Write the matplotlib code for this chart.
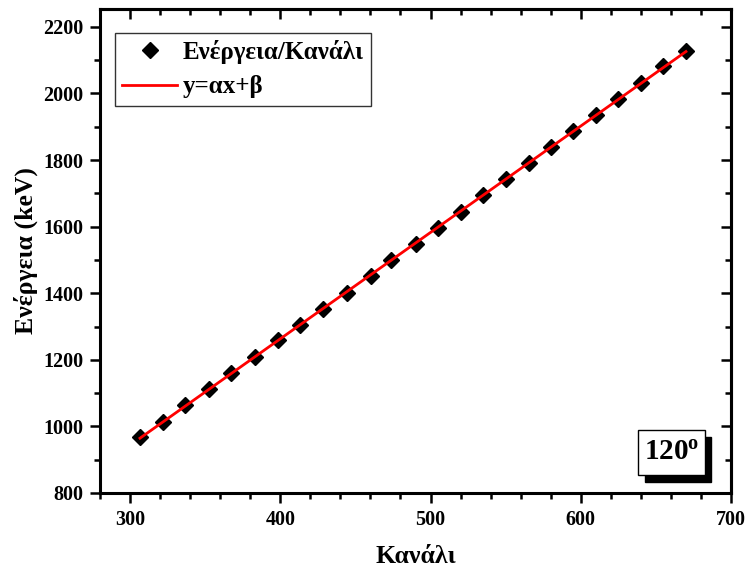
import numpy as np
import matplotlib
matplotlib.use('Agg')
import matplotlib.pyplot as plt
from matplotlib.patches import Rectangle
from matplotlib.ticker import MultipleLocator

plt.rcParams['font.family'] = ['Liberation Serif', 'DejaVu Serif']
plt.rcParams['font.weight'] = 'bold'
plt.rcParams['mathtext.fontset'] = 'custom'
plt.rcParams['mathtext.rm'] = 'Liberation Serif:bold'
plt.rcParams['mathtext.bf'] = 'Liberation Serif:bold'

# calibration points at 120 degrees
kanali = [306.6, 321.7, 336.6, 352.6, 367.1, 383.3, 398.2, 413.3, 428.5, 444.2,
          460.5, 474.0, 490.5, 505.2, 520.1, 535.0, 550.1, 565.4, 580.1, 595.0,
          610.2, 625.0, 640.2, 655.0, 670.0]
energeia = [968, 1014, 1063, 1112, 1161, 1208, 1258, 1306, 1354, 1402,
            1451, 1500, 1548, 1595, 1644, 1694, 1742, 1790, 1838, 1888,
            1935, 1983, 2032, 2082, 2128]

x = np.array(kanali)
y = np.array(energeia)
a, b = np.polyfit(x, y, 1)
xfit = np.array([x.min(), x.max()])

fig = plt.figure(figsize=(7.48, 5.76), dpi=100)
ax = fig.add_axes([0.1337, 0.1441, 0.8436, 0.8411])

ax.plot(x, y, 'D', color='black', markersize=8, label='Ενέργεια/Κανάλι', zorder=2)
ax.plot(xfit, a * xfit + b, '-', color='red', lw=2.0, label='y=αx+β', zorder=3)

ax.set_xlim(280, 700)
ax.set_ylim(800, 2255)
ax.xaxis.set_major_locator(MultipleLocator(100))
ax.xaxis.set_minor_locator(MultipleLocator(20))
ax.yaxis.set_major_locator(MultipleLocator(200))
ax.yaxis.set_minor_locator(MultipleLocator(100))

for sp in ax.spines.values():
    sp.set_linewidth(2.2)
ax.tick_params(which='major', direction='out', length=7, width=1.8,
               labelsize=14.5, pad=5)
ax.tick_params(which='minor', direction='out', length=4, width=1.8)

# inward ticks on top and right
top = ax.secondary_xaxis('top')
top.xaxis.set_major_locator(MultipleLocator(100))
top.xaxis.set_minor_locator(MultipleLocator(20))
top.tick_params(which='major', direction='in', length=7, width=1.8, labeltop=False)
top.tick_params(which='minor', direction='in', length=4, width=1.8)
right = ax.secondary_yaxis('right')
right.yaxis.set_major_locator(MultipleLocator(200))
right.yaxis.set_minor_locator(MultipleLocator(100))
right.tick_params(which='major', direction='in', length=7, width=1.8, labelright=False)
right.tick_params(which='minor', direction='in', length=4, width=1.8)
for s in (top, right):
    for sp in s.spines.values():
        sp.set_linewidth(2.2)

ax.set_xlabel('Κανάλι', fontsize=18.5, fontweight='bold', labelpad=11)
ax.set_ylabel('Ενέργεια (keV)', fontsize=18.5, fontweight='bold', labelpad=4)

leg = ax.legend(loc='upper left', bbox_to_anchor=(0.0235, 0.95), borderaxespad=0,
                fancybox=False, frameon=True, edgecolor='#333333',
                prop={'family': 'Liberation Serif', 'weight': 'bold', 'size': 18},
                handlelength=2.2, handletextpad=0.2, labelspacing=0.45,
                borderpad=0.3, framealpha=1)
leg.get_frame().set_linewidth(1.0)

# angle label box with drop shadow
ax.add_patch(Rectangle((0.864, 0.022), 0.105, 0.093, transform=ax.transAxes,
                       facecolor='black', edgecolor='black', zorder=5))
ax.add_patch(Rectangle((0.853, 0.037), 0.105, 0.093, transform=ax.transAxes,
                       facecolor='white', edgecolor='black', lw=1.0, zorder=6))
ax.text(0.9055, 0.0835, r'$\mathbf{120^{o}}$', transform=ax.transAxes,
        ha='center', va='center', fontsize=21, zorder=7)

fig.savefig('out.png', dpi=100)
